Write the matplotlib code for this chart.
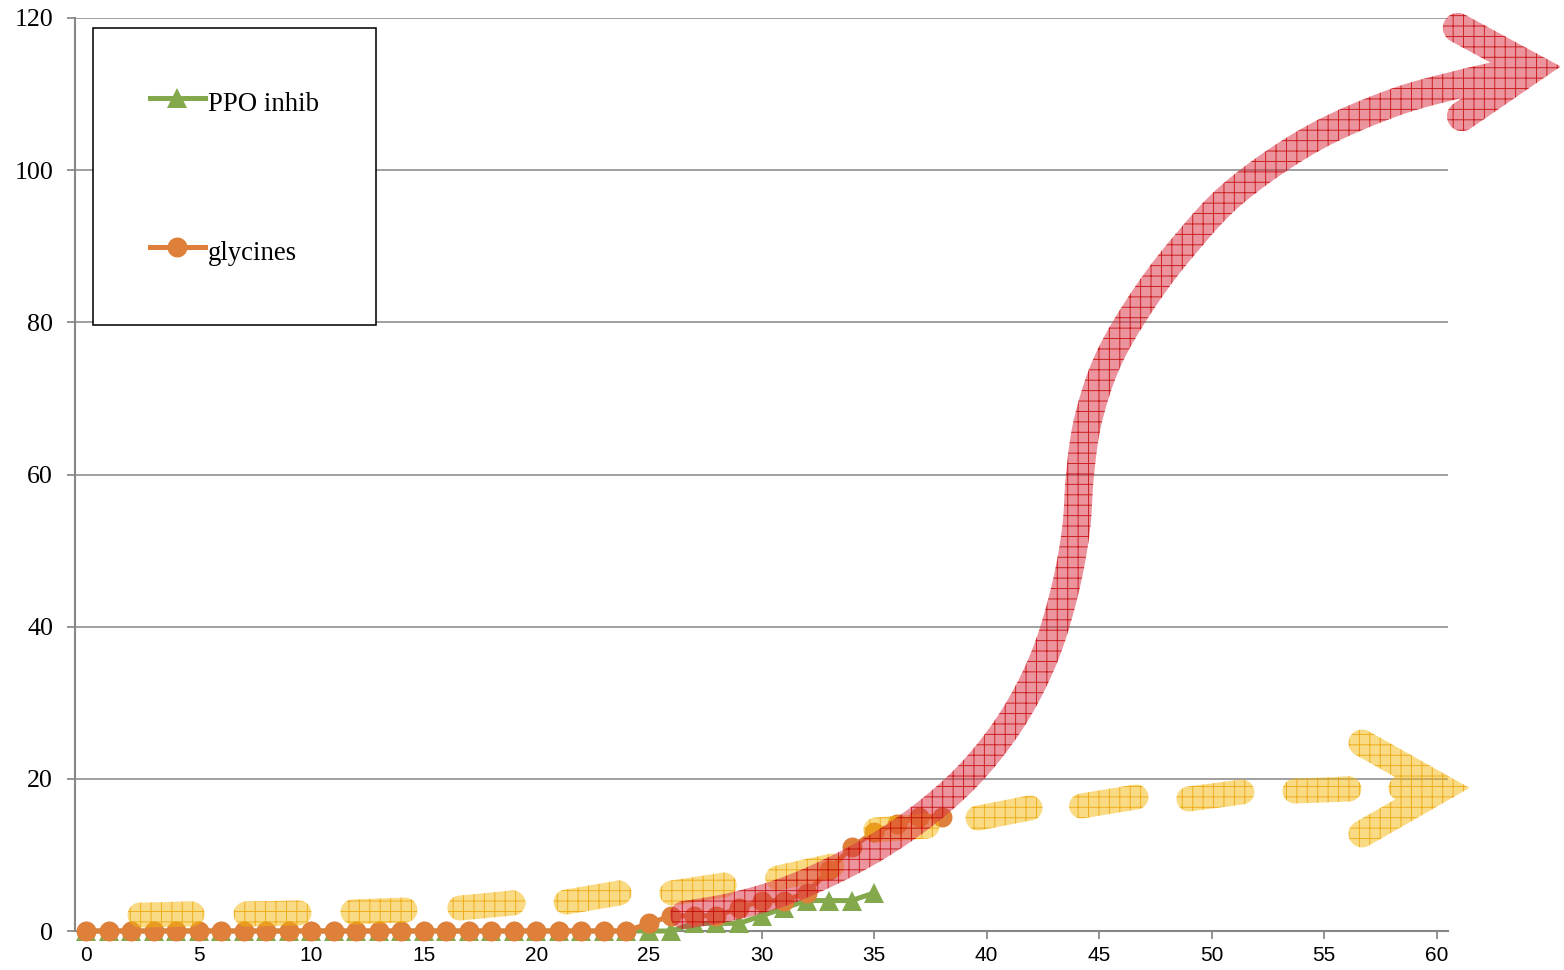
import numpy as np
import matplotlib
matplotlib.use("Agg")
import matplotlib.pyplot as plt
from matplotlib.path import Path
from matplotlib.patches import PathPatch

# counts per week
glycines_x = np.arange(0, 39)
glycines = [0, 0, 0, 0, 0, 0, 0, 0, 0, 0, 0, 0, 0, 0, 0, 0, 0, 0, 0, 0,
            0, 0, 0, 0, 0, 1, 2, 2, 2, 3, 4, 4, 5, 8, 11, 13, 14, 15, 15]
ppo_x = np.arange(0, 36)
ppo_inhib = [0, 0, 0, 0, 0, 0, 0, 0, 0, 0, 0, 0, 0, 0, 0, 0, 0, 0, 0, 0,
             0, 0, 0, 0, 0, 0, 0, 1, 1, 1, 2, 3, 4, 4, 4, 5]

# sketched trend arrows (data units)
red_trend = [(26.56, 2.10), (28.60, 3.15), (30.82, 4.99), (33.04, 7.75),
             (35.27, 11.30), (37.49, 15.90), (39.49, 21.42), (41.26, 28.39),
             (42.60, 36.28), (43.48, 44.82), (43.97, 52.71), (44.15, 59.94),
             (44.51, 67.17), (45.40, 75.05), (46.95, 82.94), (48.80, 90.17),
             (51.03, 97.13), (54.37, 103.97), (57.93, 108.70), (61.04, 111.33),
             (64.23, 113.43)]
red_head = [(60.94, 118.7), (64.23, 113.43), (61.12, 107.1)]

yellow_dashes = [[(2.39, 2.10), (4.70, 2.23)],
                 [(7.10, 2.23), (9.45, 2.37)],
                 [(11.85, 2.50), (14.16, 2.76)],
                 [(16.60, 3.02), (18.96, 3.68)],
                 [(21.32, 3.81), (23.67, 4.99)],
                 [(26.02, 4.99), (28.34, 6.05)],
                 [(30.73, 6.97), (33.13, 8.54)],
                 [(35.08, 13.27), (37.35, 13.80)],
                 [(39.62, 14.85), (41.93, 16.17)],
                 [(44.22, 16.43), (46.64, 17.61)],
                 [(48.99, 17.35), (51.34, 18.27)],
                 [(53.70, 18.40), (56.10, 18.66)]]
yellow_shaft = [(58.41, 18.79), (60.24, 18.79)]
yellow_head = [(56.68, 24.71), (60.24, 18.79), (56.68, 12.75)]

DPI = 125
plt.rcParams['hatch.linewidth'] = 0.55

fig = plt.figure(figsize=(1564 / DPI, 970 / DPI), dpi=DPI)
ax = fig.add_axes([75 / 1564, 39 / 970, 1373 / 1564, 913 / 970])
ax.set_xlim(-0.5, 60.5)
ax.set_ylim(0, 120)

ax.plot(ppo_x, ppo_inhib, color='#84a84c', lw=2.9, marker='^', ms=11.5,
        mew=0, label='PPO inhib', clip_on=False, zorder=3)
ax.plot(glycines_x, glycines, color='#de7f3a', lw=2.9, marker='o', ms=11.5,
        mew=0, label='glycines', clip_on=False, zorder=3)

ax.set_xticks(np.arange(0, 61, 5))
ax.set_yticks(np.arange(0, 121, 20))
ax.yaxis.grid(True, color='#878787', lw=0.9)
ax.set_axisbelow(True)
for s in ['top', 'right']:
    ax.spines[s].set_visible(False)
for s in ['left', 'bottom']:
    ax.spines[s].set_color('#878787')
    ax.spines[s].set_linewidth(1.2)
ax.tick_params(axis='x', colors='#878787', length=4.6, width=1.0, pad=4,
               labelcolor='black')
ax.tick_params(axis='y', colors='#878787', length=4.6, width=1.0, pad=8,
               labelcolor='black')
for lab in ax.get_xticklabels():
    lab.set_fontfamily('Liberation Sans')
    lab.set_fontsize(12)
for lab in ax.get_yticklabels():
    lab.set_fontfamily('Liberation Serif')
    lab.set_fontsize(15)

leg = ax.legend(loc='upper left', bbox_to_anchor=(0.0131, 0.989),
                borderaxespad=0, fancybox=False, framealpha=1,
                edgecolor='black', borderpad=2.13, labelspacing=4.29,
                handlelength=2.05, handleheight=1.6, handletextpad=0.12,
                numpoints=1, prop={'family': 'Liberation Serif', 'size': 15.4})
leg.get_frame().set_linewidth(0.9)


# --- thick stroked arrows, built as outlines so they can be hatched ---
def to_px(pts):
    return ax.transData.transform(np.asarray(pts, dtype=float))


def catmull(px, n=16):
    out = []
    m = len(px)
    for i in range(m - 1):
        p0, p1 = px[max(i - 1, 0)], px[i]
        p2, p3 = px[i + 1], px[min(i + 2, m - 1)]
        for t in np.linspace(0, 1, n, endpoint=False):
            t2, t3 = t * t, t * t * t
            out.append(0.5 * ((2 * p1) + (-p0 + p2) * t
                              + (2 * p0 - 5 * p1 + 4 * p2 - p3) * t2
                              + (-p0 + 3 * p1 - 3 * p2 + p3) * t3))
    out.append(px[-1])
    return np.array(out)


def arc(c, r, a0, a1, n=20):
    a = np.linspace(a0, a1, n)
    return np.column_stack([c[0] + r * np.cos(a), c[1] + r * np.sin(a)])


def stroke(px, half, start_cap=True, end_cap=True):
    d = np.gradient(px, axis=0)
    t = d / np.linalg.norm(d, axis=1)[:, None]
    nrm = np.column_stack([-t[:, 1], t[:, 0]])
    left = px + half * nrm
    right = px - half * nrm
    parts = [left]
    if end_cap:
        a = np.arctan2(nrm[-1, 1], nrm[-1, 0])
        parts.append(arc(px[-1], half, a, a - np.pi))
    parts.append(right[::-1])
    if start_cap:
        a = np.arctan2(nrm[0, 1], nrm[0, 0])
        parts.append(arc(px[0], half, a + np.pi, a))
    return np.vstack(parts)


def intersect(p1, d1, p2, d2):
    m = np.column_stack([d1, -d2])
    s, _ = np.linalg.solve(m, p2 - p1)
    return p1 + s * d1


def chevron(px, half):
    a, tip, b = px
    d1 = (tip - a) / np.linalg.norm(tip - a)
    d2 = (b - tip) / np.linalg.norm(b - tip)
    n1 = np.array([-d1[1], d1[0]])
    n2 = np.array([-d2[1], d2[0]])
    lm = intersect(a + half * n1, d1, tip + half * n2, d2)
    rm = intersect(a - half * n1, d1, tip - half * n2, d2)
    a2 = np.arctan2(n2[1], n2[0])
    a1 = np.arctan2(n1[1], n1[0])
    return np.vstack([[a + half * n1], [lm], [b + half * n2],
                      arc(b, half, a2, a2 - np.pi),
                      [b - half * n2], [rm], [a - half * n1],
                      arc(a, half, a1 + np.pi, a1)])


def hatched(polys, face, hatch_col, z):
    inv = ax.transData.inverted()
    verts, codes = [], []
    for p in polys:
        p = inv.transform(p)
        verts.extend(p.tolist() + [p[0].tolist()])
        codes.extend([Path.MOVETO] + [Path.LINETO] * (len(p) - 1)
                     + [Path.CLOSEPOLY])
    patch = PathPatch(Path(verts, codes), facecolor=face, edgecolor=hatch_col,
                      hatch='++', lw=0, clip_on=False, zorder=z)
    ax.add_patch(patch)


# yellow dashed arrow
y_polys = [stroke(catmull(to_px(seg), 4), 12.5) for seg in yellow_dashes]
y_polys.append(stroke(to_px(yellow_shaft), 12.5, end_cap=False))
y_polys.append(chevron(to_px(yellow_head), 13.5))
hatched(y_polys, (0.96, 0.72, 0.05, 0.5), (0.93, 0.63, 0.0, 0.8), 4)

# red S-curve arrow
r_polys = [stroke(catmull(to_px(red_trend)), 14, end_cap=False),
           chevron(to_px(red_head), 15)]
hatched(r_polys, (0.85, 0.2, 0.27, 0.52), (0.76, 0.0, 0.0, 0.8), 5)

fig.savefig('out.png', dpi=DPI)
